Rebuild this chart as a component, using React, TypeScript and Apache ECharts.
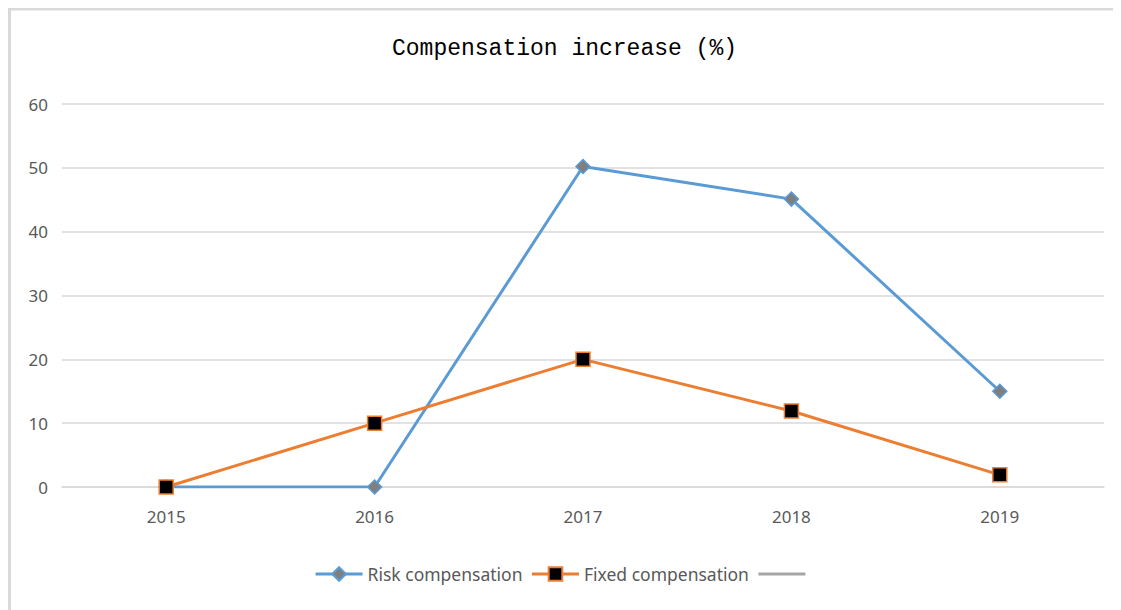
import React, { useEffect, useRef } from "react";
import * as echarts from "echarts";

const years = ["2015", "2016", "2017", "2018", "2019"];
const riskCompensation = [0, 0, 50.2, 45.1, 15];
const fixedCompensation = [0, 10, 20, 11.9, 1.9];
const blankSeries: (number | null)[] = [];
const yTicks = { min: 0, max: 60, interval: 10 };

export default function App() {
  const ref = useRef<HTMLDivElement>(null);
  useEffect(() => {
    if (!ref.current) return;
    const chart = echarts.init(ref.current, undefined, { renderer: "svg" });
    const labelColor = "#595959";
    const font = "Noto Sans";
    chart.setOption({
      animation: false,
      backgroundColor: "#ffffff",
      title: {
        text: "Compensation increase (%)",
        left: "center",
        top: 24,
        textStyle: {
          fontFamily: "Liberation Mono",
          fontSize: 23,
          fontWeight: "normal",
          color: "#000000",
        },
      },
      graphic: [
        { type: "line", shape: { x1: 1.5, y1: 0, x2: 1.5, y2: 602 }, style: { stroke: "#d9d9d9", lineWidth: 3 } },
        { type: "line", shape: { x1: 0, y1: 1, x2: 1113, y2: 1 }, style: { stroke: "#d9d9d9", lineWidth: 3 } },
      ],
      legend: {
        bottom: 22,
        left: "center",
        itemWidth: 47,
        itemHeight: 17,
        itemGap: 8,
        lineStyle: { width: 3 },
        textStyle: { color: labelColor, fontFamily: font, fontSize: 17.5 },
        data: [
          "Risk compensation",
          "Fixed compensation",
          { name: " ", itemStyle: { opacity: 0 } },
        ],
      },
      grid: { left: 54, right: 17, top: 96, bottom: 123 },
      xAxis: {
        type: "category",
        data: years,
        boundaryGap: true,
        axisLine: { lineStyle: { color: "#d9d9d9", width: 1.5 } },
        axisTick: { show: false },
        axisLabel: { color: labelColor, fontFamily: font, fontSize: 17, margin: 21 },
      },
      yAxis: {
        type: "value",
        min: yTicks.min,
        max: yTicks.max,
        interval: yTicks.interval,
        axisLine: { show: false },
        axisTick: { show: false },
        splitLine: { lineStyle: { color: "#d9d9d9", width: 1.5 } },
        axisLabel: { color: labelColor, fontFamily: font, fontSize: 17, margin: 14 },
      },
      series: [
        {
          name: "Risk compensation",
          type: "line",
          data: riskCompensation,
          symbol: "diamond",
          symbolSize: 14,
          lineStyle: { color: "#5B9BD5", width: 3 },
          itemStyle: { color: "#7f7f7f", borderColor: "#5B9BD5", borderWidth: 1.5 },
          color: "#5B9BD5",
        },
        {
          name: "Fixed compensation",
          type: "line",
          data: fixedCompensation,
          symbol: "rect",
          symbolSize: 14,
          lineStyle: { color: "#ED7D31", width: 3 },
          itemStyle: { color: "#000000", borderColor: "#ED7D31", borderWidth: 1.5 },
          color: "#ED7D31",
        },
        {
          name: " ",
          type: "line",
          data: blankSeries,
          symbol: "none",
          lineStyle: { color: "#A5A5A5", width: 3 },
          itemStyle: { color: "#A5A5A5" },
          color: "#A5A5A5",
        },
      ],
    });
    return () => chart.dispose();
  }, []);
  return <div ref={ref} style={{ width: 1113, height: 602 }} />;
}
